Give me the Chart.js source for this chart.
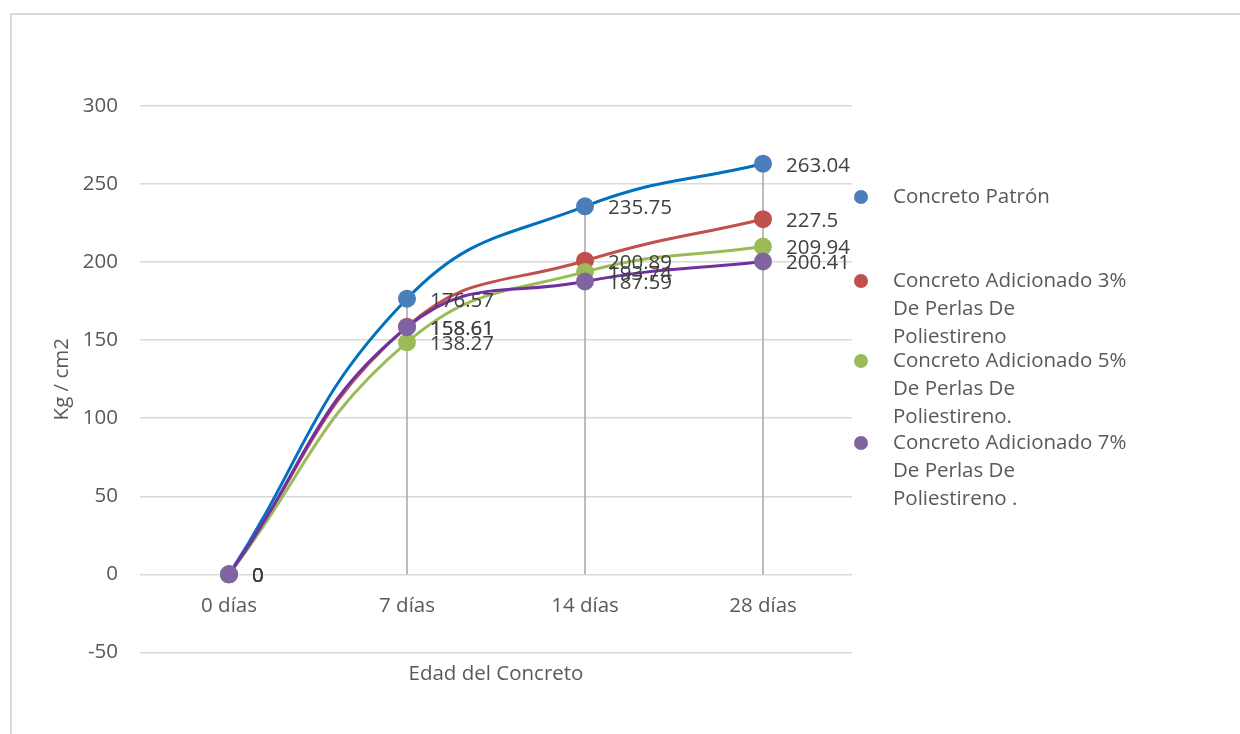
<!DOCTYPE html>
<html>
<head>
<meta charset="utf-8">
<script src="https://cdn.jsdelivr.net/npm/chart.js@4"></script>
<style>
  body { margin: 0; background: #fff; }
  canvas { display: block; }
</style>
</head>
<body>
<canvas id="chart" width="1240" height="734"></canvas>
<script>
// data
const categories = ["0 días", "7 días", "14 días", "28 días"];
const patron = [0, 176.57, 235.75, 263.04];
const adic3 = [0, 158.61, 200.89, 227.5];
const adic5 = [0, 148.6, 193.74, 209.94];
const adic7 = [0, 158.3, 187.59, 200.41];
// texts printed beside the points (the 5% label at 7 días reads 138.27 in the original)
const patronText = ["0", "176.57", "235.75", "263.04"];
const adic3Text = ["0", "158.61", "200.89", "227.5"];
const adic5Text = ["0", "138.27", "193.74", "209.94"];
const adic7Text = ["0", "158.61", "187.59", "200.41"];
const seriesNames = [
  ["Concreto Patrón"],
  ["Concreto Adicionado 3%", "De Perlas De", "Poliestireno"],
  ["Concreto Adicionado 5%", "De Perlas De", "Poliestireno."],
  ["Concreto Adicionado 7%", "De Perlas De", "Poliestireno ."]
];

const FONT = "'Open Sans', sans-serif";
const FS = 20.5;
const TXT = "#595959";

function mk(i, data, texts, line, marker) {
  return {
    label: seriesNames[i].join(" "),
    data: data,
    texts: texts,
    borderColor: line,
    backgroundColor: marker,
    pointBackgroundColor: marker,
    pointBorderColor: marker,
    pointRadius: 7.5,
    pointHoverRadius: 7.5,
    borderWidth: 3,
    tension: 0.45,
    fill: false,
    order: 3 - i
  };
}

// frame round the chart
const framePlugin = {
  id: "frame",
  beforeDraw(chart) {
    const ctx = chart.ctx;
    ctx.save();
    ctx.fillStyle = "#fff";
    ctx.fillRect(0, 0, chart.width, chart.height);
    ctx.strokeStyle = "#d9d9d9";
    ctx.lineWidth = 2;
    ctx.strokeRect(11, 14, 1240, 740);
    ctx.restore();
  }
};

// vertical drop lines from the highest point to zero
const dropLines = {
  id: "dropLines",
  beforeDatasetsDraw(chart) {
    const ctx = chart.ctx;
    const y = chart.scales.y;
    ctx.save();
    ctx.strokeStyle = "#a6a6a6";
    ctx.lineWidth = 1.5;
    categories.forEach((c, i) => {
      let top = Math.max(...chart.data.datasets.map(d => d.data[i]));
      const x = chart.getDatasetMeta(0).data[i].x;
      ctx.beginPath();
      ctx.moveTo(x, y.getPixelForValue(top));
      ctx.lineTo(x, y.getPixelForValue(0));
      ctx.stroke();
    });
    ctx.restore();
  }
};

// value labels right of each point
const valueLabels = {
  id: "valueLabels",
  afterDatasetsDraw(chart) {
    const ctx = chart.ctx;
    ctx.save();
    ctx.font = FS + "px " + FONT;
    ctx.fillStyle = "#404040";
    ctx.textAlign = "left";
    ctx.textBaseline = "middle";
    chart.data.datasets.forEach((ds, di) => {
      chart.getDatasetMeta(di).data.forEach((pt, i) => {
        ctx.fillText(ds.texts[i], pt.x + 23, pt.y + 2);
      });
    });
    ctx.restore();
  }
};

// legend on the right, wrapped like the original
const sideLegend = {
  id: "sideLegend",
  afterDraw(chart) {
    const ctx = chart.ctx;
    const tops = [197, 281, 361, 443];
    ctx.save();
    ctx.font = FS + "px " + FONT;
    ctx.textAlign = "left";
    ctx.textBaseline = "middle";
    chart.data.datasets.forEach((ds, di) => {
      const y0 = tops[di];
      ctx.beginPath();
      ctx.arc(861, y0, 7, 0, Math.PI * 2);
      ctx.fillStyle = ds.pointBackgroundColor;
      ctx.fill();
      ctx.fillStyle = TXT;
      seriesNames[di].forEach((ln, k) => ctx.fillText(ln, 893, y0 + k * 28));
    });
    ctx.restore();
  }
};

new Chart(document.getElementById("chart"), {
  type: "line",
  data: {
    labels: categories,
    datasets: [
      mk(0, patron, patronText, "#0070c0", "#4a7ebb"),
      mk(1, adic3, adic3Text, "#c0504d", "#c0504d"),
      mk(2, adic5, adic5Text, "#9bbb59", "#9bbb59"),
      mk(3, adic7, adic7Text, "#7030a0", "#8064a2")
    ]
  },
  options: {
    responsive: false,
    animation: false,
    events: [],
    layout: { padding: { left: 0, top: 106, right: 388, bottom: 48 } },
    plugins: {
      legend: { display: false },
      tooltip: { enabled: false },
      title: {
        display: true,
        position: "bottom",
        fullSize: false,
        text: "Edad del Concreto",
        color: TXT,
        font: { family: FONT, size: FS, weight: "normal" },
        padding: { top: 9, bottom: 0 }
      }
    },
    scales: {
      x: {
        position: { y: 0 },
        offset: true,
        grid: { display: false, drawTicks: false },
        border: { display: false },
        ticks: { color: TXT, font: { family: FONT, size: FS }, padding: 20, maxRotation: 0 }
      },
      y: {
        position: "left",
        min: -50,
        max: 300,
        grid: { color: "#d9d9d9", lineWidth: 1.5, drawTicks: false },
        border: { display: false },
        ticks: { stepSize: 50, color: TXT, font: { family: FONT, size: FS }, padding: 22 },
        title: { display: true, text: "Kg / cm2", color: TXT, font: { family: FONT, size: FS }, padding: { top: 50, bottom: 0 } },
        afterFit(s) { s.width = 140; }
      }
    }
  },
  plugins: [framePlugin, dropLines, valueLabels, sideLegend]
});
</script>
</body>
</html>
